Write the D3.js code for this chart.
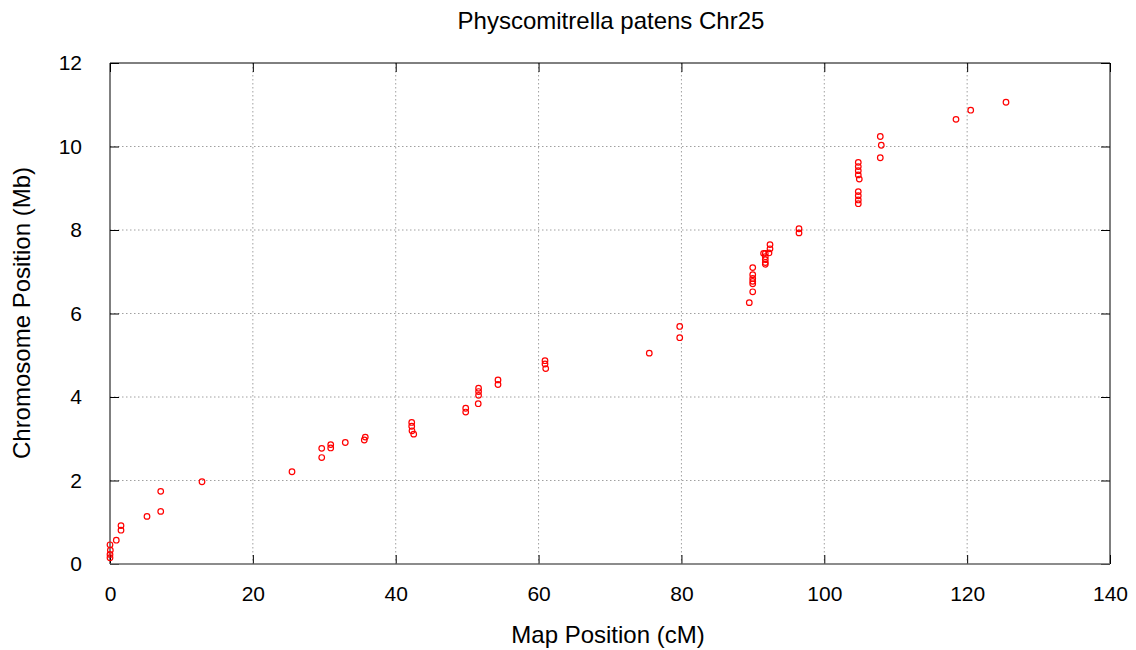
<!DOCTYPE html>
<html>
<head>
<meta charset="utf-8">
<script src="https://cdn.jsdelivr.net/npm/d3@7"></script>
<style>
  html, body { margin: 0; padding: 0; background: #fff; }
  svg { display: block; font-family: "Liberation Sans", Arial, Helvetica, sans-serif; }
</style>
</head>
<body>
<svg id="chart" width="1136" height="650"></svg>
<script>
const title = "Physcomitrella patens Chr25";
const xLabel = "Map Position (cM)";
const yLabel = "Chromosome Position (Mb)";
const xTicks = [0, 20, 40, 60, 80, 100, 120, 140];
const yTicks = [0, 2, 4, 6, 8, 10, 12];

// Map position (cM) of each marker
const mapPos = [
  0, 0.05, 0, 0, 0.88, 1.54, 1.54, 5.18, 7.10, 7.10,
  12.88, 25.48, 29.64, 29.64, 30.9, 30.9, 32.94, 35.6, 35.74,
  42.24, 42.24, 42.28, 42.52, 49.8, 49.8, 51.6, 51.6, 51.6, 51.55,
  54.32, 54.32, 60.9, 60.9, 61.0, 75.5, 79.76, 79.76,
  89.5, 89.98, 89.98, 89.98, 89.98, 89.98, 89.98,
  91.5, 91.74, 91.74, 91.74, 91.74, 91.74, 92.26, 92.4, 92.4,
  96.46, 96.46,
  104.76, 104.76, 104.76, 104.76, 104.9, 104.76, 104.76, 104.76, 104.76,
  107.84, 107.98, 107.84, 118.44, 120.5, 125.44
];
// Chromosome position (Mb) of each marker
const chrPos = [
  0.46, 0.33, 0.23, 0.15, 0.57, 0.92, 0.81, 1.14, 1.74, 1.26,
  1.97, 2.21, 2.77, 2.55, 2.86, 2.78, 2.91, 2.97, 3.04,
  3.39, 3.30, 3.19, 3.11, 3.73, 3.64, 4.21, 4.13, 4.04, 3.84,
  4.41, 4.30, 4.87, 4.79, 4.68, 5.05, 5.69, 5.42,
  6.26, 6.52, 6.71, 6.77, 6.84, 6.93, 7.10,
  7.44, 7.44, 7.36, 7.29, 7.22, 7.18, 7.45, 7.55, 7.65,
  8.03, 7.93,
  9.62, 9.52, 9.42, 9.32, 9.22, 8.92, 8.82, 8.72, 8.63,
  10.24, 10.03, 9.73, 10.65, 10.87, 11.06
];

const svg = d3.select("#chart");
const L = 110, R = 1110, T = 63, B = 564;
const x = d3.scaleLinear().domain([0, 140]).range([L, R]);
const y = d3.scaleLinear().domain([0, 12]).range([B, T]);

// grid
const grid = svg.append("g");
grid.selectAll("line.gx").data(xTicks.filter(d => d > 0 && d < 140)).enter().append("line")
  .attr("x1", d => x(d)).attr("x2", d => x(d)).attr("y1", T).attr("y2", B)
  .attr("stroke", "#a0a0a0").attr("stroke-width", 1).attr("stroke-dasharray", "1.5,2.5");
grid.selectAll("line.gy").data(yTicks.filter(d => d > 0 && d < 12)).enter().append("line")
  .attr("x1", L).attr("x2", R).attr("y1", d => y(d)).attr("y2", d => y(d))
  .attr("stroke", "#a0a0a0").attr("stroke-width", 1).attr("stroke-dasharray", "1.5,2.5");

// axes with inward ticks
const tickLen = 9;
const xAxisB = d3.axisBottom(x).tickValues(xTicks).tickSize(-tickLen).tickPadding(22).tickFormat(d3.format("d"));
const xAxisT = d3.axisTop(x).tickValues(xTicks).tickSize(-tickLen).tickFormat("");
const yAxisL = d3.axisLeft(y).tickValues(yTicks).tickSize(-tickLen).tickPadding(28).tickFormat(d3.format("d"));
const yAxisR = d3.axisRight(y).tickValues(yTicks).tickSize(-tickLen).tickFormat("");

function styleAxis(g) {
  g.select(".domain").remove();
  g.selectAll(".tick line").attr("stroke", "#000");
  g.selectAll(".tick text").attr("fill", "#000").attr("font-size", 21)
    .attr("font-family", "'Liberation Sans', Arial, sans-serif");
}
svg.append("g").attr("transform", `translate(0,${B})`).call(xAxisB).call(styleAxis);
svg.append("g").attr("transform", `translate(0,${T})`).call(xAxisT).call(styleAxis);
svg.append("g").attr("transform", `translate(${L},0)`).call(yAxisL).call(styleAxis);
svg.append("g").attr("transform", `translate(${R},0)`).call(yAxisR).call(styleAxis);

// frame
svg.append("path").attr("d", `M${L},${B}V${T}H${R}V${B}`).attr("fill", "none")
  .attr("stroke", "#000").attr("stroke-width", 1);
svg.append("line").attr("x1", L).attr("x2", R).attr("y1", B).attr("y2", B)
  .attr("stroke", "#666").attr("stroke-width", 1.5);

// points
svg.append("g").selectAll("circle").data(mapPos.map((m, i) => [m, chrPos[i]])).enter()
  .append("circle")
  .attr("cx", d => x(d[0])).attr("cy", d => y(d[1])).attr("r", 2.8)
  .attr("fill", "none").attr("stroke", "#ff0000").attr("stroke-width", 1.2);

// titles
svg.append("text").attr("x", 611).attr("y", 29).attr("text-anchor", "middle")
  .attr("font-size", 24).attr("fill", "#000").text(title);
svg.append("text").attr("x", 608).attr("y", 643).attr("text-anchor", "middle")
  .attr("font-size", 24).attr("fill", "#000").text(xLabel);
svg.append("text").attr("transform", "translate(30,313) rotate(-90)").attr("text-anchor", "middle")
  .attr("font-size", 24).attr("fill", "#000").text(yLabel);
</script>
</body>
</html>
